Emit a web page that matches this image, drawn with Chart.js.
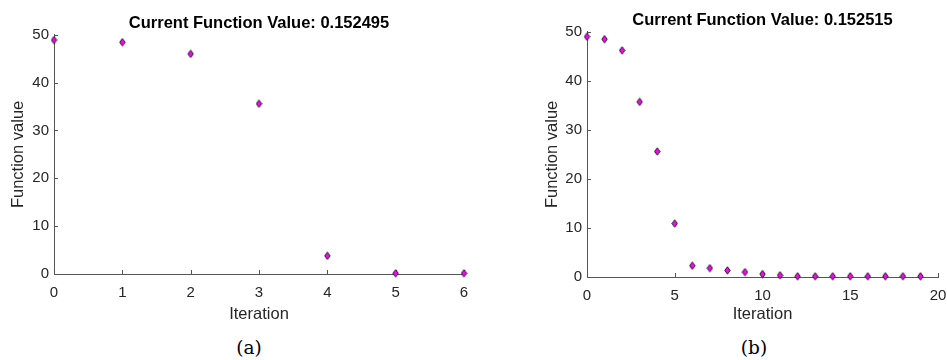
<!DOCTYPE html>
<html>
<head>
<meta charset="utf-8">
<script src="https://cdn.jsdelivr.net/npm/chart.js@4.4.1/dist/chart.umd.min.js"></script>
<style>
  body { margin: 0; background: #fff; width: 947px; height: 360px; position: relative; overflow: hidden; }
  canvas { position: absolute; top: 0; }
  #chart_a { left: 0; width: 470px; height: 335px; }
  #chart_b { left: 470px; width: 477px; height: 335px; }
  .sub { position: absolute; font-family: "DejaVu Serif", "Liberation Serif", serif; font-size: 18.5px; line-height: 22px; color: #000; transform: translateX(-50%); }
</style>
</head>
<body>
<canvas id="chart_a" width="470" height="335"></canvas>
<canvas id="chart_b" width="477" height="335"></canvas>
<div class="sub" style="left:249px; top:337px;">(a)</div>
<div class="sub" style="left:754px; top:337px;">(b)</div>
<script>
// values
const iter_a = [0, 1, 2, 3, 4, 5, 6];
const value_a = [48.9, 48.45, 46.0, 35.6, 3.8, 0.15, 0.15];
const title_a = 'Current Function Value: 0.152495';

const iter_b = [0, 1, 2, 3, 4, 5, 6, 7, 8, 9, 10, 11, 12, 13, 14, 15, 16, 17, 18, 19];
const value_b = [49.0, 48.5, 46.2, 35.7, 25.6, 10.9, 2.3, 1.8, 1.35, 1.0, 0.6, 0.35, 0.15, 0.15, 0.15, 0.15, 0.15, 0.15, 0.15, 0.15];
const title_b = 'Current Function Value: 0.152515';

const x_ticks_a = [0, 1, 2, 3, 4, 5, 6];
const x_ticks_b = [0, 5, 10, 15, 20];
const y_ticks = [0, 10, 20, 30, 40, 50];

const font_family = '"Liberation Sans", Arial, Helvetica, sans-serif';
const axis_color = '#555555';
const text_color = '#262626';

// tall diamond marker, like matlab's 'd'
const marker = document.createElement('canvas');
marker.width = 7;
marker.height = 9;
const mctx = marker.getContext('2d');
mctx.beginPath();
mctx.moveTo(3.5, 0.8);
mctx.lineTo(6.2, 4.5);
mctx.lineTo(3.5, 8.2);
mctx.lineTo(0.8, 4.5);
mctx.closePath();
mctx.fillStyle = '#ff00ff';
mctx.fill();
mctx.lineWidth = 1;
mctx.strokeStyle = '#1a1a1a';
mctx.stroke();

// ticks pointing into the plot area
const innerTicks = {
    id: 'innerTicks',
    beforeDatasetsDraw(chart) {
        const c = chart.ctx;
        const area = chart.chartArea;
        const xs = chart.scales.x;
        const ys = chart.scales.y;
        c.save();
        c.strokeStyle = axis_color;
        c.lineWidth = 1;
        xs.ticks.forEach(t => {
            const px = Math.round(xs.getPixelForValue(t.value)) + 0.5;
            c.beginPath();
            c.moveTo(px, area.bottom);
            c.lineTo(px, area.bottom - 4);
            c.stroke();
        });
        ys.ticks.forEach(t => {
            const py = Math.round(ys.getPixelForValue(t.value)) + 0.5;
            c.beginPath();
            c.moveTo(area.left, py);
            c.lineTo(area.left + 4, py);
            c.stroke();
        });
        c.restore();
    }
};

function makeChart(id, xs, ys, xTicks, title, box) {
    const ctx = document.getElementById(id).getContext('2d');
    const points = xs.map((x, i) => ({ x: x, y: ys[i] }));
    return new Chart(ctx, {
        type: 'scatter',
        data: {
            datasets: [{
                data: points,
                pointStyle: marker,
                pointRadius: 4,
                clip: false,
            }]
        },
        options: {
            responsive: false,
            animation: false,
            layout: {
                autoPadding: false,
                padding: { left: box.padLeft, right: box.padRight, top: 0, bottom: 0 }
            },
            plugins: {
                legend: { display: false },
                tooltip: { enabled: false },
                title: {
                    display: true,
                    text: title,
                    fullSize: false,
                    color: '#000',
                    font: { family: font_family, size: 16.5, weight: 'bold' },
                    padding: { top: box.titleTop, bottom: box.titleBottom },
                }
            },
            scales: {
                x: {
                    type: 'linear',
                    min: 0,
                    max: xTicks[xTicks.length - 1],
                    afterBuildTicks: s => { s.ticks = xTicks.map(v => ({ value: v })); },
                    afterFit: s => {
                        s.height = box.xHeight;
                        // end labels may hang past the plot area
                        s.paddingLeft = 0;
                        s.paddingRight = 0;
                    },
                    grid: { display: false, drawTicks: false },
                    border: { display: true, color: axis_color, width: 1 },
                    ticks: { color: text_color, padding: 10, font: { family: font_family, size: 15 } },
                    title: {
                        display: true,
                        text: 'Iteration',
                        color: text_color,
                        font: { family: font_family, size: 16.5 },
                        padding: { top: 0, bottom: 11 },
                    }
                },
                y: {
                    type: 'linear',
                    min: 0,
                    max: 50,
                    afterBuildTicks: s => { s.ticks = y_ticks.map(v => ({ value: v })); },
                    afterFit: s => { s.width = box.yWidth; },
                    grid: { display: false, drawTicks: false },
                    border: { display: true, color: axis_color, width: 1 },
                    ticks: { color: text_color, padding: 5, font: { family: font_family, size: 15 } },
                    title: {
                        display: true,
                        text: 'Function value',
                        color: text_color,
                        font: { family: font_family, size: 16.5 },
                        padding: { top: 8.5, bottom: 0 },
                    }
                }
            }
        },
        plugins: [innerTicks]
    });
}

makeChart('chart_a', iter_a, value_a, x_ticks_a, title_a,
    { padLeft: 0, padRight: 6, yWidth: 54, xHeight: 61, titleTop: 14, titleBottom: 1 });
makeChart('chart_b', iter_b, value_b, x_ticks_b, title_b,
    { padLeft: 64, padRight: 9, yWidth: 53, xHeight: 58, titleTop: 11, titleBottom: 1 });
</script>
</body>
</html>
